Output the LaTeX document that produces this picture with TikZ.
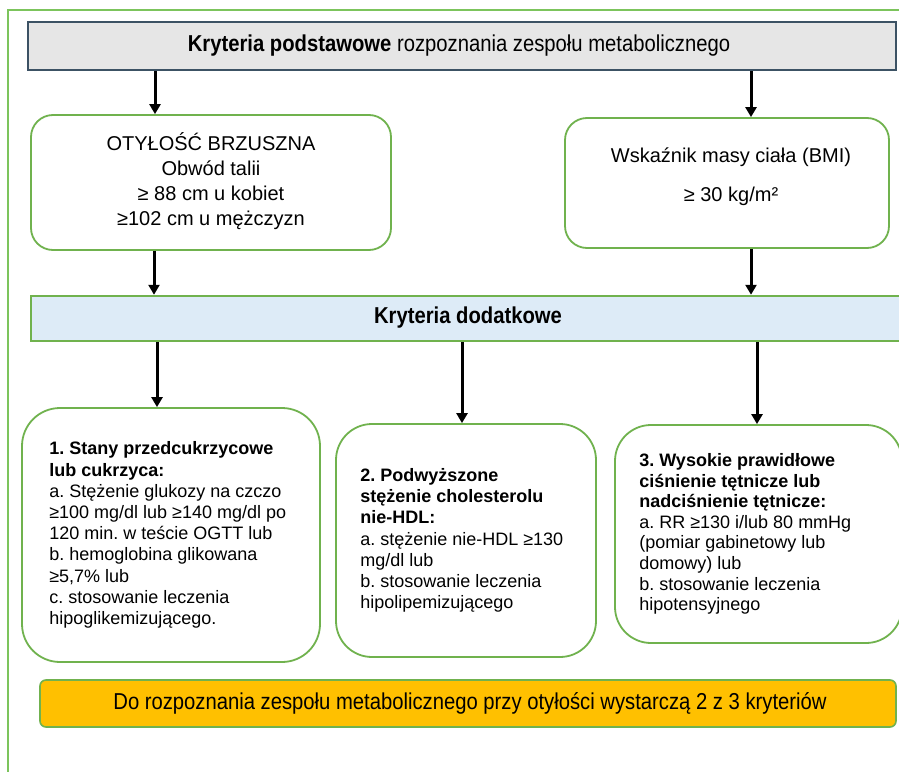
\documentclass[tikz,border=0pt]{standalone}
\usepackage{fontspec}
\setmainfont{Liberation Sans}
\newfontfamily\narrowfont[FakeStretch=0.88]{Liberation Sans}
\usetikzlibrary{arrows.meta}
\frenchspacing
\definecolor{gborder}{RGB}{112,178,78}
\definecolor{gframe}{RGB}{124,196,92}
\definecolor{topfill}{RGB}{230,230,230}
\definecolor{topline}{RGB}{60,82,100}
\definecolor{barfill}{RGB}{221,235,247}
\definecolor{orangefill}{RGB}{255,192,0}
\tikzset{
  topbox/.style={draw=topline, line width=2.8pt, fill=topfill, inner sep=0pt},
  gbox/.style={draw=gborder, line width=1.8pt, fill=white, inner sep=0pt},
  barbox/.style={draw=gborder, line width=2.5pt, fill=barfill, inner sep=0pt},
  obox/.style={draw=gborder, line width=1.6pt, fill=orangefill, rounded corners=6pt, inner sep=0pt},
  arr/.style={line width=3pt, -{Triangle[width=11pt,length=10pt]}},
  bigtxt/.style={font=\fontsize{20}{25}\selectfont, align=center, inner sep=0pt},
  smalltxt/.style={font=\fontsize{18}{21.2}\selectfont, align=left, inner sep=0pt},
  narrowtxt/.style={font=\narrowfont\fontsize{23}{27}\selectfont, inner sep=0pt},
  frame/.style={draw=gframe, line width=1.5pt}
}
\begin{document}
\begin{tikzpicture}[x=1pt,y=-1pt]
\useasboundingbox (0,0) rectangle (899,771);
\fill[white] (0,0) rectangle (899,771);
\draw[frame] (8,775) -- (8,10) -- (903,10);

% top box
\node[topbox, minimum width=868pt, minimum height=48pt] (top) at (462,46) {};
\node[narrowtxt] (ttop) at (459,46) {\textbf{Kryteria podstawowe} rozpoznania zespołu metabolicznego};

% obesity box
\node[gbox, rounded corners=22pt, minimum width=360pt, minimum height=135pt] (b1) at (211,182.5) {};
\node[bigtxt] (t1) at (211,181) {OTYŁOŚĆ BRZUSZNA\\Obwód talii\\≥ 88 cm u kobiet\\≥102 cm u mężczyzn};

% BMI box
\node[gbox, rounded corners=22pt, minimum width=324pt, minimum height=130pt] (b2) at (727,183) {};
\node[bigtxt] (t2) at (731,177) {Wskaźnik masy ciała (BMI)\\[14pt]≥ 30 kg/m²};

% bar
\node[barbox, minimum width=876pt, minimum height=45pt] (bar) at (469,318.5) {};
\node[narrowtxt] (tbar) at (468,318) {\textbf{Kryteria dodatkowe}};

% criteria boxes
\node[gbox, rounded corners=38pt, minimum width=298pt, minimum height=254pt] (kA) at (171,535) {};
\node[smalltxt, anchor=west] (tA) at ([xshift=28pt]kA.west) {\textbf{1. Stany przedcukrzycowe}\\\textbf{lub cukrzyca:}\\a. Stężenie glukozy na czczo\\≥100 mg/dl lub ≥140 mg/dl po\\120 min. w teście OGTT lub\\b. hemoglobina glikowana\\≥5,7\% lub\\c. stosowanie leczenia\\hipoglikemizującego.};

\node[gbox, rounded corners=36pt, minimum width=260pt, minimum height=233pt] (kB) at (466,540.5) {};
\node[smalltxt, anchor=west] (tB) at ([xshift=25pt]kB.west) {\textbf{2. Podwyższone}\\\textbf{stężenie cholesterolu}\\\textbf{nie-HDL:}\\a. stężenie nie-HDL ≥130\\mg/dl lub\\b. stosowanie leczenia\\hipolipemizującego};

\node[gbox, rounded corners=36pt, minimum width=287pt, minimum height=218pt] (kC) at (758.5,534) {};
\node[smalltxt, font=\fontsize{18}{20.6}\selectfont, anchor=west] (tC) at ([xshift=25pt]kC.west) {\textbf{3. Wysokie prawidłowe}\\\textbf{ciśnienie tętnicze lub}\\\textbf{nadciśnienie tętnicze:}\\a. RR ≥130 i/lub 80 mmHg\\(pomiar gabinetowy lub\\domowy) lub\\b. stosowanie leczenia\\hipotensyjnego};

% bottom box
\node[obox, minimum width=856pt, minimum height=47pt] (ob) at (468,703.5) {};
\node[narrowtxt] (tob) at (470,703) {Do rozpoznania zespołu metabolicznego przy otyłości wystarczą 2 z 3 kryteriów};

% arrows
\draw[arr] (top.south -| 155,0) -- (b1.north -| 155,0);
\draw[arr] (top.south -| 751,0) -- (b2.north -| 751,0);
\draw[arr] (b1.south -| 154,0) -- (bar.north -| 154,0);
\draw[arr] (b2.south -| 751,0) -- (bar.north -| 751,0);
\draw[arr] (bar.south -| 157,0) -- (kA.north -| 157,0);
\draw[arr] (bar.south -| 462,0) -- (kB.north -| 462,0);
\draw[arr] (bar.south -| 757,0) -- (kC.north -| 757,0);
\end{tikzpicture}
\end{document}
